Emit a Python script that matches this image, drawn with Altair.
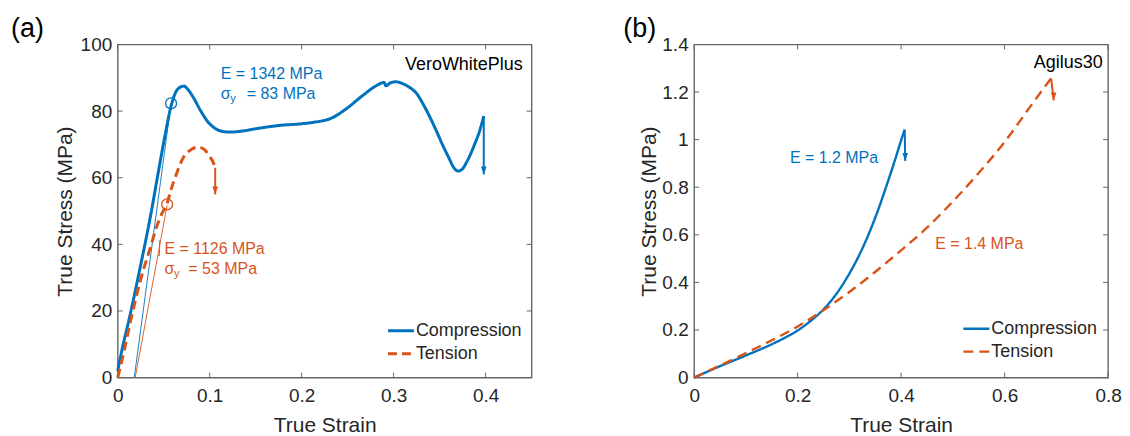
import altair as alt
import pandas as pd

BLUE = "#0072BD"
ORANGE = "#D95319"
FONT = "Liberation Sans"
INK = "#262626"
FRAME = "#666666"
SERIES = ["Compression", "Tension"]

W, H = 415, 334

# ---------------- Panel (a): VeroWhitePlus ----------------
a_comp_strain = [0.000, 0.006, 0.012, 0.024, 0.036, 0.045, 0.052, 0.058, 0.063, 0.068,
                 0.072, 0.076, 0.082, 0.090, 0.098, 0.106, 0.114, 0.122, 0.135, 0.150,
                 0.176, 0.200, 0.212, 0.234, 0.248, 0.266, 0.281, 0.2897, 0.2915, 0.296,
                 0.302, 0.311, 0.318, 0.324, 0.335, 0.3456, 0.353, 0.360, 0.366, 0.370,
                 0.374, 0.380, 0.388, 0.394, 0.398]
a_comp_stress = [2.0, 10.0, 17.0, 32.5, 49.0, 63.0, 73.5, 81.5, 85.6, 87.2,
                 87.5, 86.6, 84.2, 80.2, 76.8, 74.8, 73.9, 73.7, 74.0, 74.7,
                 75.7, 76.2, 76.6, 78.1, 80.6, 84.6, 87.6, 88.6, 87.6, 88.4,
                 88.8, 88.1, 87.0, 85.6, 80.6, 74.6, 70.0, 66.0, 62.8, 62.0,
                 62.4, 65.0, 70.0, 74.5, 78.5]
a_tens_strain = [0.000, 0.007, 0.014, 0.025, 0.036, 0.042, 0.048, 0.0537, 0.058, 0.063,
                 0.0717, 0.080, 0.0876, 0.094, 0.1005, 0.104, 0.106]
a_tens_stress = [0.0, 8.0, 17.0, 29.5, 39.5, 45.0, 49.2, 52.3, 56.5, 60.5,
                 66.2, 68.5, 69.2, 68.5, 66.2, 64.5, 63.0]
a_xticks = [0, 0.1, 0.2, 0.3, 0.4]
a_yticks = [0, 20, 40, 60, 80, 100]
# modulus construction lines and yield points
a_comp_mod_strain = [0.018, 0.058]
a_comp_mod_stress = [0.0, 82.3]
a_tens_mod_strain = [0.019, 0.0537]
a_tens_mod_stress = [0.0, 51.7]
a_slope_strain = [0.0436, 0.0455, 0.0455]
a_slope_stress = [36.6, 36.6, 41.2]
a_yield_comp = (0.058, 82.3)
a_yield_tens = (0.0537, 52.0)
# failure arrows (x, y_start, x_end, y_end)
a_arrow_comp = (0.398, 78.5, 0.398, 61.0)
a_arrow_tens = (0.106, 63.0, 0.106, 55.0)

# ---------------- Panel (b): Agilus30 ----------------
b_comp_strain = [0.000, 0.050, 0.100, 0.150, 0.175, 0.200, 0.225, 0.250, 0.275, 0.300,
                 0.325, 0.350, 0.375, 0.390, 0.400, 0.407]
b_comp_stress = [0.000, 0.048, 0.093, 0.140, 0.167, 0.198, 0.238, 0.287, 0.352, 0.437,
                 0.542, 0.672, 0.827, 0.927, 0.997, 1.042]
b_tens_strain = [0.000, 0.100, 0.200, 0.300, 0.400, 0.450, 0.500, 0.550, 0.600, 0.650,
                 0.690]
b_tens_stress = [0.000, 0.103, 0.215, 0.360, 0.535, 0.630, 0.740, 0.860, 0.990, 1.140,
                 1.258]
b_xticks = [0, 0.2, 0.4, 0.6, 0.8]
b_yticks = [0, 0.2, 0.4, 0.6, 0.8, 1.0, 1.2, 1.4]
b_arrow_comp = (0.407, 1.042, 0.408, 0.910)
b_arrow_tens = (0.690, 1.258, 0.695, 1.165)


def curve_frame(cx, cy, tx, ty):
    rows = []
    for name, xs, ys in (("Compression", cx, cy), ("Tension", tx, ty)):
        for i, (x, y) in enumerate(zip(xs, ys)):
            rows.append({"series": name, "strain": x, "stress": y, "idx": i})
    return pd.DataFrame(rows)


def panel(tag, tag_x, curves, xdom, ydom, xticks, yticks, lw, dash, ytitle_pad,
          leg_x, leg_y, thin=(), circles=(), arrows=(), notes=()):
    xs = alt.Scale(domain=xdom, nice=False, zero=False)
    ys = alt.Scale(domain=ydom, nice=False, zero=False)
    xax = alt.Axis(values=xticks, title="True Strain", format="~r", labelPadding=9,
                   titlePadding=9, labelFlush=False, tickSize=0)
    yax = alt.Axis(values=yticks, title="True Stress (MPa)", format="~r", labelPadding=6,
                   titlePadding=ytitle_pad, labelFlush=False, tickSize=0)
    X = alt.X("strain:Q", scale=xs, axis=xax)
    Y = alt.Y("stress:Q", scale=ys, axis=yax)
    leg = alt.Legend(title=None, orient="none", legendX=leg_x, legendY=leg_y,
                     symbolType="M-3.2,0L2,0", symbolSize=100, symbolStrokeWidth=lw,
                     labelFont=FONT, labelFontSize=18, labelColor=INK, labelOffset=3,
                     rowPadding=5, padding=0)
    layers = []
    xt = pd.DataFrame({"strain": xticks})
    yt = pd.DataFrame({"stress": yticks})
    tick = dict(color=FRAME, strokeWidth=1)
    layers.append(alt.Chart(xt).mark_rule(**tick).encode(x=X, y=alt.value(H), y2=alt.value(H - 5)))
    layers.append(alt.Chart(xt).mark_rule(**tick).encode(x=X, y=alt.value(0), y2=alt.value(5)))
    layers.append(alt.Chart(yt).mark_rule(**tick).encode(y=Y, x=alt.value(0), x2=alt.value(5)))
    layers.append(alt.Chart(yt).mark_rule(**tick).encode(y=Y, x=alt.value(W), x2=alt.value(W - 5)))

    for color, lx, ly in thin:
        df = pd.DataFrame({"strain": lx, "stress": ly, "idx": list(range(len(lx)))})
        layers.append(alt.Chart(df).mark_line(color=color, strokeWidth=0.9)
                      .encode(x=X, y=Y, order="idx:Q"))

    layers.append(
        alt.Chart(curves).mark_line(strokeWidth=lw, strokeCap="butt", strokeJoin="round",
                                    interpolate="monotone").encode(
            x=X, y=Y,
            color=alt.Color("series:N", scale=alt.Scale(domain=SERIES, range=[BLUE, ORANGE]), legend=leg),
            strokeDash=alt.StrokeDash("series:N", scale=alt.Scale(domain=SERIES, range=[[1, 0], dash]), legend=leg),
            order="idx:Q",
        )
    )

    for color, (cx, cy) in circles:
        df = pd.DataFrame({"strain": [cx], "stress": [cy]})
        layers.append(alt.Chart(df).mark_point(shape="circle", filled=False, size=120, strokeWidth=1.3,
                                               color=color, opacity=1).encode(x=X, y=Y))

    for color, (ax, ay, ax2, ay2) in arrows:
        df = pd.DataFrame({"strain": [ax], "stress": [ay], "strain2": [ax2], "stress2": [ay2]})
        layers.append(alt.Chart(df).mark_rule(color=color, strokeWidth=2)
                      .encode(x=X, y=Y, x2="strain2:Q", y2="stress2:Q"))
        hd = pd.DataFrame({"strain": [ax2], "stress": [ay2]})
        layers.append(alt.Chart(hd).mark_point(shape="M-0.7,-2L0.7,-2L0,0Z", filled=True, size=64,
                                               color=color, opacity=1, strokeWidth=0).encode(x=X, y=Y))

    for text, nx, ny, color, size, dx, dy, align in notes:
        df = pd.DataFrame({"strain": [nx], "stress": [ny], "t": [text]})
        layers.append(alt.Chart(df).mark_text(align=align, baseline="middle", font=FONT, fontSize=size,
                                              color=color, dx=dx, dy=dy).encode(x=X, y=Y, text="t:N"))

    layers.append(alt.Chart(pd.DataFrame({"t": [tag]})).mark_text(
        align="left", baseline="top", font=FONT, fontSize=27, color="black").encode(
        x=alt.value(tag_x), y=alt.value(-29), text="t:N"))
    return alt.layer(*layers).properties(width=W, height=H)


pa = panel(
    "(a)", -107,
    curve_frame(a_comp_strain, a_comp_stress, a_tens_strain, a_tens_stress),
    [0, 0.45], [0, 100], a_xticks, a_yticks, 3, [9, 5], 5, 278, 278,
    thin=[(BLUE, a_comp_mod_strain, a_comp_mod_stress),
          (ORANGE, a_tens_mod_strain, a_tens_mod_stress),
          (ORANGE, a_slope_strain, a_slope_stress)],
    circles=[(BLUE, a_yield_comp), (ORANGE, a_yield_tens)],
    arrows=[(BLUE, a_arrow_comp), (ORANGE, a_arrow_tens)],
    notes=[
        ("E = 1342 MPa", 0.1121, 91.1, BLUE, 16, 0, 0, "left"),
        ("σ", 0.1121, 85.1, BLUE, 16, 0, 0, "left"),
        ("y", 0.1121, 85.1, BLUE, 11, 9.5, 5, "left"),
        ("= 83 MPa", 0.1121, 85.1, BLUE, 16, 26, 0, "left"),
        ("E = 1126 MPa", 0.0508, 38.7, ORANGE, 16, 0, 0, "left"),
        ("σ", 0.0508, 32.5, ORANGE, 16, 0, 0, "left"),
        ("y", 0.0508, 32.5, ORANGE, 11, 9.5, 5, "left"),
        ("= 53 MPa", 0.0508, 32.5, ORANGE, 16, 24, 0, "left"),
        ("VeroWhitePlus", 0.4403, 93.8, "black", 18, 0, 0, "right"),
    ],
)

pb = panel(
    "(b)", -71,
    curve_frame(b_comp_strain, b_comp_stress, b_tens_strain, b_tens_stress),
    [0, 0.8], [0, 1.4], b_xticks, b_yticks, 2.4, [10, 6], 2, 277, 276,
    arrows=[(BLUE, b_arrow_comp), (ORANGE, b_arrow_tens)],
    notes=[
        ("E = 1.2 MPa", 0.1852, 0.9234, BLUE, 16, 0, 0, "left"),
        ("E = 1.4 MPa", 0.466, 0.5617, ORANGE, 16, 0, 0, "left"),
        ("Agilus30", 0.7896, 1.3233, "black", 18, 0, 0, "right"),
    ],
)

chart = (
    alt.hconcat(pa, pb, spacing=163, bounds="flush")
    .resolve_scale(color="independent", strokeDash="independent")
    .resolve_legend(color="independent", strokeDash="independent")
    .properties(padding={"left": 2, "top": 5, "right": 0, "bottom": 0}, background="white")
    .configure(font=FONT)
    .configure_view(stroke=FRAME, strokeWidth=1.4)
    .configure_axis(domain=False, ticks=False, grid=False, labelFont=FONT, labelFontSize=19,
                    labelColor=INK, titleFont=FONT, titleFontSize=21, titleFontWeight="normal",
                    titleColor=INK)
)

chart.save("out.html", embed_options={"renderer": "svg", "actions": False})
